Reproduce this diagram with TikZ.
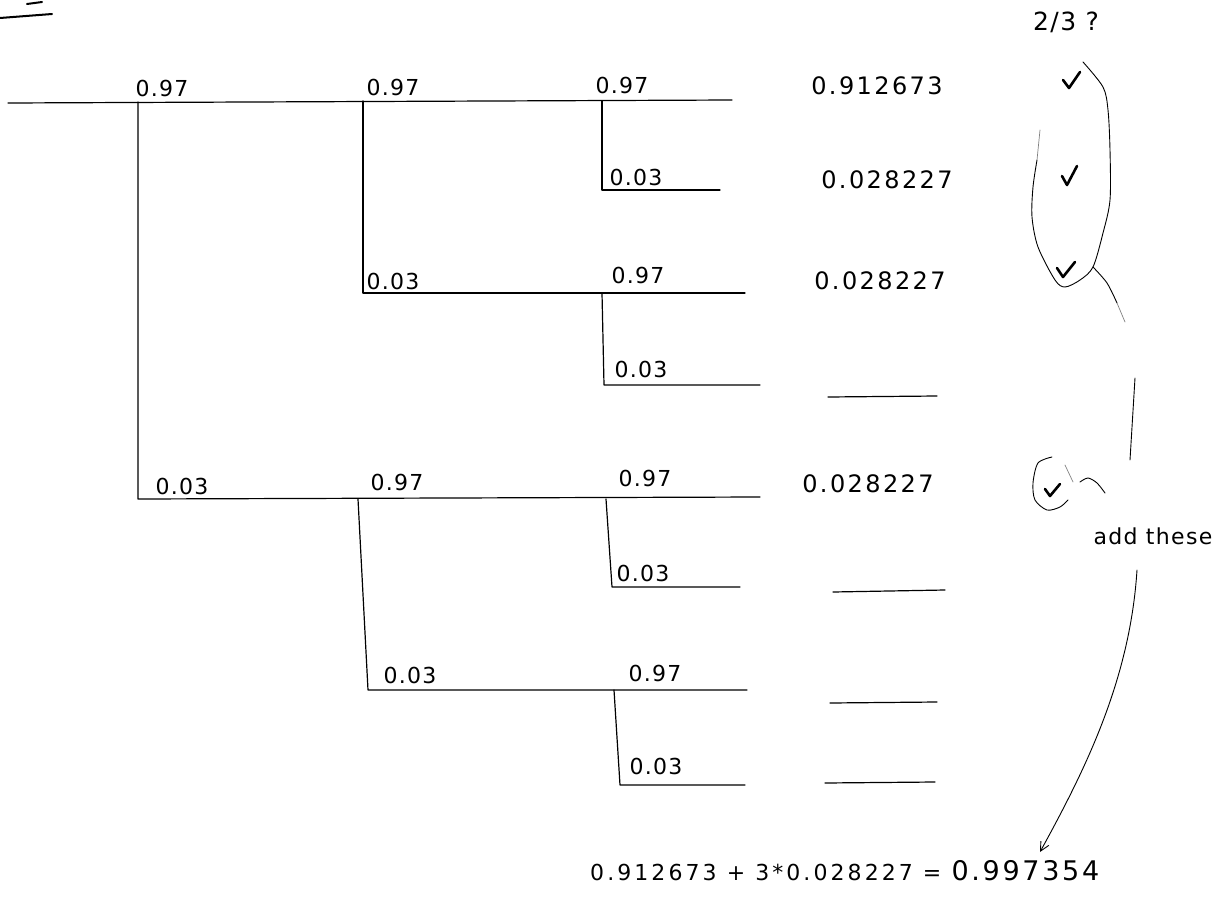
\documentclass[tikz,border=0pt]{standalone}
\usepackage{fontspec}
\setmainfont{DejaVu Sans}
\newfontfamily\lblfont[LetterSpace=6]{DejaVu Sans}
\newfontfamily\resfont[LetterSpace=10]{DejaVu Sans}
\newfontfamily\eqfont[LetterSpace=14]{DejaVu Sans}
\newfontfamily\eqbigfont[LetterSpace=10]{DejaVu Sans}
\newfontfamily\notefont[LetterSpace=6]{DejaVu Sans}
\usetikzlibrary{arrows.meta}
\begin{document}
\begin{tikzpicture}[x=1pt,y=-1pt,
  branch/.style={line width=1.2pt, line cap=round, line join=round},
  blank/.style={line width=1.2pt, line cap=round},
  prob/.style={font=\lblfont\fontsize{22}{22}\selectfont, inner sep=0pt},
  res/.style={font=\resfont\fontsize{24}{24}\selectfont, inner sep=0pt},
  eqn/.style={inner sep=0pt, anchor=base west},
  note/.style={font=\notefont\fontsize{22}{22}\selectfont, inner sep=0pt},
  qnote/.style={font=\notefont\fontsize{25}{25}\selectfont, inner sep=0pt},
  tick/.style={line width=2.6pt, line cap=round, line join=round},
  pen/.style={line width=0.9pt, line cap=round, line join=round},
  faint/.style={line width=0.7pt, line cap=round, gray}]
\useasboundingbox (0,0) rectangle (1227,897);

% cut-off heading fragment
\draw[line width=2pt, line cap=round] (27,4) -- (42,2);
\draw[line width=2pt, line cap=round] (0,18) -- (52,14);

% tree coordinates
\coordinate (s) at (8,103);
\coordinate (e1) at (732,100);
\coordinate (n0) at (138,102);
\coordinate (n0d) at (138,499);
\coordinate (e5) at (760,497);
\coordinate (n1) at (363,101);
\coordinate (n1d) at (363,293);
\coordinate (e3) at (745,293);
\coordinate (n2) at (602,101);
\coordinate (n2d) at (602,190);
\coordinate (e2) at (720,190);
\coordinate (n3) at (602,293);
\coordinate (n3d) at (604,385);
\coordinate (e4) at (760,385);
\coordinate (n4) at (358,499);
\coordinate (n4d) at (368,690);
\coordinate (e7) at (747,690);
\coordinate (n5) at (606,499);
\coordinate (n5d) at (612,587);
\coordinate (e6) at (740,587);
\coordinate (n6) at (614,690);
\coordinate (n6d) at (620,785);
\coordinate (e8) at (745,785);

\draw[branch] (s) -- (e1);
\draw[branch] (n0) -- (n0d) -- (e5);
\draw[branch] (n1) -- (n1d) -- (e3);
\draw[branch] (n2) -- (n2d) -- (e2);
\draw[branch] (n3) -- (n3d) -- (e4);
\draw[branch] (n4) -- (n4d) -- (e7);
\draw[branch] (n5) -- (n5d) -- (e6);
\draw[branch] (n6) -- (n6d) -- (e8);

% probabilities
\node[prob] (p1) at (162,88) {0.97};
\node[prob] (p2) at (393,87) {0.97};
\node[prob] (p3) at (622,85) {0.97};
\node[prob] (p4) at (636,177) {0.03};
\node[prob] (p5) at (393,281) {0.03};
\node[prob] (p6) at (638,275) {0.97};
\node[prob] (p7) at (641,369) {0.03};
\node[prob] (p8) at (182,486) {0.03};
\node[prob] (p9) at (397,482) {0.97};
\node[prob] (p10) at (645,478) {0.97};
\node[prob] (p11) at (643,573) {0.03};
\node[prob] (p12) at (410,675) {0.03};
\node[prob] (p13) at (655,673) {0.97};
\node[prob] (p14) at (656,766) {0.03};

% results
\node[res] (r1) at (877,86) {0.912673};
\node[res] (r2) at (887,180) {0.028227};
\node[res] (r3) at (880,281) {0.028227};
\node[res] (r5) at (868,484) {0.028227};
\coordinate (b4l) at (828,397); \coordinate (b4r) at (937,396);
\coordinate (b6l) at (833,592); \coordinate (b6r) at (945,590);
\coordinate (b7l) at (830,703); \coordinate (b7r) at (937,702);
\coordinate (b8l) at (825,783); \coordinate (b8r) at (935,782);
\draw[blank] (b4l) -- (b4r);
\draw[blank] (b6l) -- (b6r);
\draw[blank] (b7l) -- (b7r);
\draw[blank] (b8l) -- (b8r);

% annotations
\node[qnote] (q) at (1066,22) {2/3 ?};
\draw[tick] (1063,80) -- (1069,88) -- (1080,72);
\draw[tick] (1062,176) -- (1067,185) -- (1077,166);
\draw[tick] (1057,268) -- (1063,277) -- (1075,262);
\draw[tick] (1045,489) -- (1050,496) -- (1060,484);

% loop round the first three ticks
\draw[pen] plot[smooth] coordinates {(1083,62) (1103,87) (1108,110) (1110,150) (1110,200) (1103,233) (1093,267) (1080,280) (1065,287) (1055,280) (1038,247) (1032,217) (1033,187) (1037,160)};
\draw[faint] (1037,160) -- (1040,130);
\draw[pen] plot[smooth] coordinates {(1093,267) (1107,283) (1117,303)};
\draw[faint] (1117,303) -- (1125,322);
\draw[pen] (1135,378) -- (1130,460);

% circle round the fourth tick
\draw[pen] plot[smooth] coordinates {(1068,500) (1060,507) (1047,510) (1035,500) (1033,483) (1038,463) (1052,457)};
\draw[faint] (1065,465) -- (1073,482);
\draw[pen] plot[smooth] coordinates {(1080,482) (1088,478) (1097,483) (1105,493)};

\node[note] (add) at (1153,536) {add these};

% equation and arrow
\node[eqn] (eq) at (590,880) {{\eqfont\fontsize{22}{22}\selectfont 0.912673 + 3*0.028227 = }{\eqbigfont\fontsize{27}{27}\selectfont 0.997354}};
\coordinate (at) at (1137,570);
\coordinate (ah) at (1040,852);
\draw[pen, -{Straight Barb[length=9pt,width=9pt]}] (at) .. controls (1130,680) and (1085,770) .. (ah);
\end{tikzpicture}
\end{document}
